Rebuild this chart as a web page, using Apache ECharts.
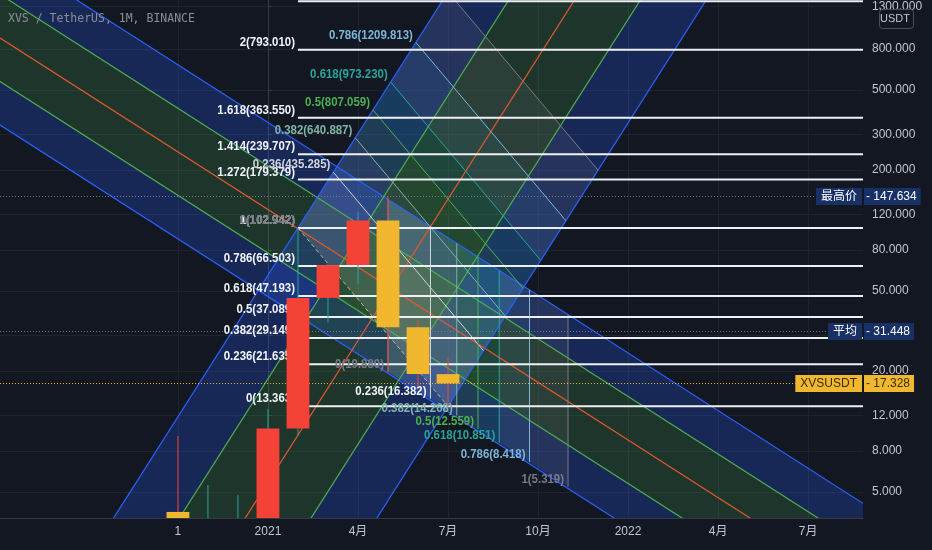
<!DOCTYPE html>
<html>
<head>
<meta charset="utf-8">
<title>XVS / TetherUS, 1M, BINANCE</title>
<script src="https://cdn.jsdelivr.net/npm/echarts@6/dist/echarts.min.js"></script>
<style>
  html, body { margin: 0; padding: 0; background: #131722; }
  #main { width: 932px; height: 550px; }
</style>
</head>
<body>
<div id="main"></div>
<script>
// month index: 0 = 2021-01 (monthly candles)
const months = [-3, -2, -1, 0, 1, 2, 3, 4, 5, 6];
const opens  = [3.98, 3.0, 3.3, 3.5, 10.35, 46.2, 67.3, 112.0, 33.0, 19.3];
const highs  = [9.5, 5.42, 4.83, 12.9, 102.942, 68.0, 124.0, 147.634, 35.9, 23.2];
const lows   = [2.2, 2.3, 2.6, 3.0, 9.5, 34.8, 54.0, 19.6, 16.7, 13.363];
const closes = [3.0, 3.3, 3.5, 10.35, 46.2, 67.3, 112.0, 33.0, 19.3, 17.328];

const xTickValues = [-3, 0, 3, 6, 9, 12, 15, 18];
const xTickLabels = ['1', '2021', '4月', '7月', '10月', '2022', '4月', '7月'];
const yTickValues = [5, 8, 12, 20, 30, 50, 80, 120, 200, 300, 500, 800, 1300];

// fib retracement (horizontal), starts at 2021-02
const fibStart = 1;
const fibLevels = [0, 0.236, 0.382, 0.5, 0.618, 0.786, 1, 1.272, 1.414, 1.618, 2, 2.272];
const fibPrices = [13.363, 21.635, 29.149, 37.089, 47.193, 66.503, 102.942, 179.379, 239.707, 363.550, 793.010, 1381.973];

// fib channel falling (anchors in month / price)
const chanATop = [[4, 143], [14, 15.84]];
const chanABottom = [4, 19.48];
// fib channel rising
const chanBLeft = [[1, 102.942], [6, 1537]];
const chanBRight = [6, 13.363];
const chanLevels = [0, 0.25, 0.5, 0.75, 1];

// fib levels drawn inside the rising channel
const fanLevels = [0, 0.236, 0.382, 0.5, 0.618, 0.786, 1];
const fanPrices = [102.942, 435.285, 640.887, 807.059, 973.230, 1209.813, 1511.175];
// fib levels hanging from the falling channel
const timeStart = [4, 19.880];
const timeEnd = [10, 5.319];
const timePrices = [19.880, 16.382, 14.268, 12.559, 10.851, 8.418, 5.319];

// price tags on the right
const tagValues = [147.634, 31.448, 17.328];
const tagNames = ['最高价', '平均', 'XVSUSDT'];

const BG = '#131722';
const FONT = '"Liberation Sans", Arial, "Noto Sans CJK SC", sans-serif';
const levelColors = ['#787b86', '#d1d4dc', '#7fb5a6', '#4caf50', '#26a69a', '#7ab6d9', '#787b86'];
const levelFills = ['rgba(120,123,134,0.15)', 'rgba(209,212,220,0.15)', 'rgba(127,181,166,0.15)',
  'rgba(76,175,80,0.15)', 'rgba(38,166,154,0.15)', 'rgba(122,182,217,0.15)', 'rgba(120,123,134,0.15)'];
const chanLineColors = ['#2962ff', '#4caf50', '#e4572e', '#4caf50', '#2962ff'];
const chanFillColors = ['rgba(41,98,255,0.24)', 'rgba(76,175,80,0.2)', 'rgba(76,175,80,0.2)', 'rgba(41,98,255,0.24)'];

function lg(p) { return Math.log10(p); }
// point at t along a->b, in (month, log price)
function along(a, b, t) {
  return [a[0] + (b[0] - a[0]) * t, Math.pow(10, lg(a[1]) + (lg(b[1]) - lg(a[1])) * t)];
}
// p shifted by f times the vector a->b
function moved(p, a, b, f) {
  return [p[0] + (b[0] - a[0]) * f, Math.pow(10, lg(p[1]) + (lg(b[1]) - lg(a[1])) * f)];
}
function seg(p, q, color, width, dash) {
  return { type: 'line', shape: { x1: p[0], y1: p[1], x2: q[0], y2: q[1] },
    style: { stroke: color, lineWidth: width || 1, lineDash: dash || null } };
}
function poly(pts, fill) {
  return { type: 'polygon', shape: { points: pts }, style: { fill: fill } };
}

function channelLines(api, top, bottom) {
  return chanLevels.map(f => [
    api.coord(moved(along(top[0], top[1], -4), top[0], bottom, f)),
    api.coord(moved(along(top[0], top[1], 4), top[0], bottom, f))
  ]);
}
function fanPoints(api) {
  return fanLevels.map(l => {
    const s = along(chanBLeft[0], chanBLeft[1], l);
    return [api.coord(s), api.coord(moved(s, chanBLeft[0], chanBRight, 1))];
  });
}
function timePoints(api) {
  return fanLevels.map(l => {
    const m = timeStart[0] + (timeEnd[0] - timeStart[0]) * l;
    const top = along(chanATop[0], chanATop[1], (m - chanATop[0][0]) / (chanATop[1][0] - chanATop[0][0]));
    return [api.coord(top), api.coord(along(timeStart, timeEnd, l))];
  });
}

function renderFills(params, api) {
  const children = [];
  [channelLines(api, chanATop, chanABottom), channelLines(api, chanBLeft, chanBRight)].forEach(lines => {
    for (let i = 0; i < lines.length - 1; i++) {
      children.push(poly([lines[i][0], lines[i][1], lines[i + 1][1], lines[i + 1][0]], chanFillColors[i]));
    }
  });
  const fan = fanPoints(api);
  for (let i = 1; i < fan.length; i++) {
    children.push(poly([fan[i - 1][0], fan[i - 1][1], fan[i][1], fan[i][0]], levelFills[i]));
  }
  const tz = timePoints(api);
  for (let i = 1; i < tz.length; i++) {
    children.push(poly([tz[i - 1][0], tz[i][0], tz[i][1], tz[i - 1][1]], levelFills[i]));
  }
  return { type: 'group', children };
}

function renderLines(params, api) {
  const children = [];
  const cs = params.coordSys;
  [channelLines(api, chanATop, chanABottom), channelLines(api, chanBLeft, chanBRight)].forEach(lines => {
    lines.forEach((l, i) => children.push(seg(l[0], l[1], chanLineColors[i], 1.2)));
  });
  fanPoints(api).forEach((l, i) => {
    if (i === 0) children.push(seg(l[0], l[1], '#c9b47a', 1, [4, 3]));
    else children.push(seg(l[0], l[1], levelColors[i], 1));
  });
  timePoints(api).forEach((l, i) => children.push(seg(l[0], l[1], levelColors[i], 1)));
  // horizontal fib retracement
  fibPrices.forEach(p => {
    const a = api.coord([fibStart, p]);
    children.push(seg(a, [cs.x + cs.width, a[1]], '#eef0f5', 2));
  });
  // dotted price lines
  tagValues.forEach((v, i) => {
    const y = api.coord([0, v])[1];
    children.push(seg([cs.x, y], [cs.x + cs.width, y], i === 2 ? '#f0b72f' : '#787b86', 1, [1, 2]));
  });
  return { type: 'group', children };
}

// tall, narrow label text (scaled about its anchor point)
function textEl(x, y, str, color, align, vAlign) {
  return { type: 'text', x: x, y: y, scaleX: 0.88,
    style: { text: str, fill: color, fontSize: 13, fontWeight: 'bold', fontFamily: FONT, align: align, verticalAlign: vAlign } };
}

function renderLabels(params, api) {
  const children = [];
  fibPrices.forEach((p, i) => {
    const a = api.coord([fibStart, p]);
    children.push(textEl(a[0] - 3, a[1] - 1, fibLevels[i] + '(' + p.toFixed(3) + ')', '#f0f3fa', 'right', 'bottom'));
  });
  fanPoints(api).forEach((l, i) => {
    children.push(textEl(l[0][0] - 3, l[0][1] - 1, fanLevels[i] + '(' + fanPrices[i].toFixed(3) + ')', levelColors[i], 'right', 'bottom'));
  });
  timePoints(api).forEach((l, i) => {
    children.push(textEl(l[1][0] - 4, l[1][1] - 1, fanLevels[i] + '(' + timePrices[i].toFixed(3) + ')',
      i === 1 ? '#f0f3fa' : levelColors[i], 'right', 'bottom'));
  });
  return { type: 'group', children };
}

function renderCandle(params, api) {
  const m = api.value(0), o = api.value(1), c = api.value(2), l = api.value(3), h = api.value(4);
  const pO = api.coord([m, o]), pC = api.coord([m, c]);
  const pH = api.coord([m, h]), pL = api.coord([m, l]);
  const half = (api.coord([m + 0.38, o])[0] - api.coord([m - 0.38, o])[0]) / 2;
  const up = c >= o;
  const top = Math.min(pO[1], pC[1]), bot = Math.max(pO[1], pC[1]);
  return { type: 'group', children: [
    seg(pH, pL, up ? '#26a69a' : '#f44336', 1),
    { type: 'rect', shape: { x: pO[0] - half, y: top, width: half * 2, height: Math.max(bot - top, 1) },
      style: { fill: up ? '#f44336' : '#f0b72f' } }
  ] };
}

function renderTags(params, api) {
  const cs = params.coordSys;
  const children = [];
  tagValues.forEach((v, i) => {
    const y = api.coord([0, v])[1];
    const yellow = i === 2;
    const bg = yellow ? '#f0b72f' : '#173066';
    const fg = yellow ? '#3b2c05' : '#ffffff';
    const xr = cs.x + cs.width;
    children.push({ type: 'text', x: xr - 1, y: y,
      style: { text: tagNames[i], fill: fg, backgroundColor: bg, padding: [3, 5, 2, 5],
        fontSize: 12, fontFamily: FONT, align: 'right', verticalAlign: 'middle' } });
    children.push({ type: 'text', x: xr + 1, y: y,
      style: { text: '- ' + v.toFixed(3), fill: fg, backgroundColor: bg, padding: [3, 4, 2, 2],
        fontSize: 12, fontFamily: FONT, align: 'left', verticalAlign: 'middle' } });
  });
  return { type: 'group', children };
}

const chart = echarts.init(document.getElementById('main'));
chart.setOption({
  backgroundColor: BG,
  animation: false,
  grid: { left: 0, right: 69, top: 0, bottom: 32 },
  xAxis: {
    type: 'value', min: -8.93, max: 19.83,
    axisLine: { show: true, lineStyle: { color: '#363a45' } },
    axisTick: { show: false, customValues: xTickValues },
    axisLabel: {
      customValues: xTickValues,
      formatter: v => xTickLabels[xTickValues.indexOf(v)],
      color: '#c3c6ce', fontSize: 12, fontFamily: FONT, margin: 8
    },
    splitLine: { show: true, lineStyle: { color: '#1f2330' } }
  },
  yAxis: {
    type: 'log', logBase: 10, min: 3.713, max: 1402, position: 'right',
    axisLine: { show: true, lineStyle: { color: '#363a45' } },
    axisTick: { show: true, length: 4, customValues: yTickValues, lineStyle: { color: '#363a45' } },
    axisLabel: {
      customValues: yTickValues,
      formatter: v => Number(v).toFixed(3),
      color: '#c3c6ce', fontSize: 12, fontFamily: FONT, margin: 9
    },
    splitLine: { show: true, lineStyle: { color: '#1f2330' } }
  },
  graphic: [
    { type: 'text', left: 8, top: 13, z: 20,
      style: { text: 'XVS / TetherUS, 1M, BINANCE', fill: '#8b8e98', fontSize: 11.5, fontFamily: '"DejaVu Sans Mono", monospace' } },
    { type: 'rect', right: 18, top: 9, z: 20, shape: { width: 34, height: 19, r: 3 },
      style: { fill: BG, stroke: '#4a4e5a', lineWidth: 1 } },
    { type: 'text', right: 22, top: 13, z: 21,
      style: { text: 'USDT', fill: '#c3c6ce', fontSize: 11, fontFamily: FONT } }
  ],
  series: [
    { type: 'custom', name: 'fills', clip: true, z: 1, data: [[0, 10]], renderItem: renderFills, silent: true },
    { type: 'custom', name: 'lines', clip: true, z: 2, data: [[0, 10]], renderItem: renderLines, silent: true },
    { type: 'custom', name: 'labels', clip: true, z: 3, data: [[0, 10]], renderItem: renderLabels, silent: true },
    { type: 'custom', name: 'XVSUSDT', clip: true, z: 4, renderItem: renderCandle,
      data: months.map((m, i) => [m, opens[i], closes[i], lows[i], highs[i]]) },
    { type: 'custom', name: 'tags', clip: false, z: 10, data: [[0, 10]], renderItem: renderTags, silent: true }
  ]
});
</script>
</body>
</html>
